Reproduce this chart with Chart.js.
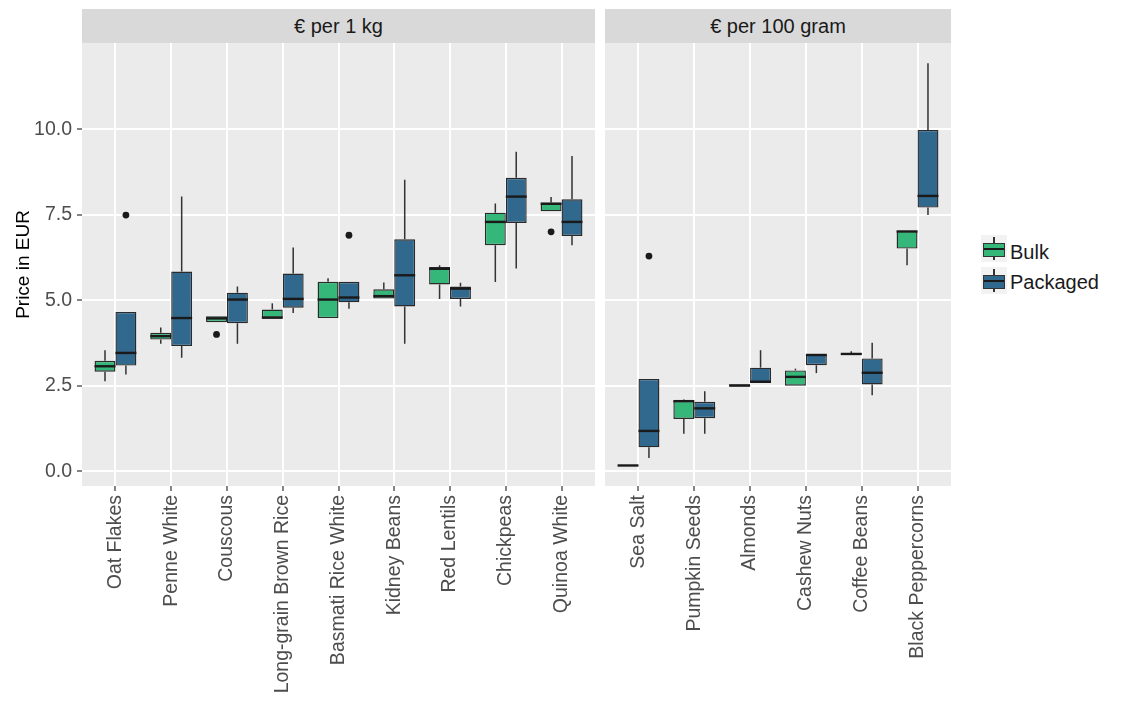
<!DOCTYPE html>
<html><head><meta charset="utf-8">
<script src="https://cdn.jsdelivr.net/npm/chart.js@4/dist/chart.umd.min.js"></script>
<style>
body{margin:0;background:#fff;width:1121px;height:720px;position:relative;overflow:hidden;font-family:"Liberation Sans",Arial,sans-serif;}
.strip{position:absolute;top:9px;height:34px;background:#D9D9D9;color:#1A1A1A;font-size:20px;line-height:35px;text-align:center;}
canvas{position:absolute;}
.key{position:absolute;left:981px;width:26px;height:27px;background:#F2F2F2;}
.key .wh{position:absolute;left:12px;width:1.5px;top:2px;height:23px;background:#333;}
.key .bx{position:absolute;left:2px;top:8px;width:20px;height:12px;border:1px solid #333;}
.key .md{position:absolute;left:3px;top:13px;width:20px;height:2px;background:#1A1A1A;}
.lab{position:absolute;left:1010px;font-size:20px;color:#1A1A1A;line-height:24px;}
</style></head>
<body>
<div class="strip" style="left:82px;width:513px;">€ per 1 kg</div>
<div class="strip" style="left:605px;width:346px;">€ per 100 gram</div>
<canvas id="c1" width="595" height="677" style="left:0;top:43px;"></canvas>
<canvas id="c2" width="346" height="677" style="left:605px;top:43px;"></canvas>
<div class="key" style="top:235px;"><div class="wh"></div><div class="bx" style="background:#35B779"></div><div class="md"></div></div>
<div class="lab" style="top:240px;">Bulk</div>
<div class="key" style="top:267px;"><div class="wh"></div><div class="bx" style="background:#31688E"></div><div class="md"></div></div>
<div class="lab" style="top:270px;">Packaged</div>
<script>
// ---- data: [lower whisker, Q1, median, Q3, upper whisker] ----
const kgCategories = ["Oat Flakes","Penne White","Couscous","Long-grain Brown Rice","Basmati Rice White","Kidney Beans","Red Lentils","Chickpeas","Quinoa White"];
const kgBulk = [
  [2.63,2.91,3.07,3.23,3.54],
  [3.73,3.85,3.95,4.05,4.20],
  [4.36,4.36,4.47,4.53,4.53],
  [4.49,4.49,4.49,4.73,4.91],
  [4.48,4.48,5.02,5.54,5.64],
  [5.05,5.05,5.12,5.32,5.52],
  [5.04,5.46,5.92,5.97,6.02],
  [5.53,6.61,7.29,7.56,7.83],
  [7.60,7.60,7.82,7.86,8.02]
];
const kgPackaged = [
  [2.83,3.09,3.46,4.66,4.66],
  [3.32,3.66,4.48,5.84,8.03],
  [3.73,4.33,5.02,5.22,5.40],
  [4.63,4.78,5.04,5.78,6.54],
  [4.75,4.94,5.08,5.54,5.54],
  [3.73,4.82,5.73,6.78,8.52],
  [4.82,5.04,5.34,5.40,5.51],
  [5.93,7.26,8.03,8.58,9.34],
  [6.61,6.88,7.29,7.95,9.22]
];
const kgBulkOutliers = [[2,4.00],[8,7.00]];
const kgPackagedOutliers = [[0,7.49],[4,6.90]];

const gCategories = ["Sea Salt","Pumpkin Seeds","Almonds","Cashew Nuts","Coffee Beans","Black Peppercorns"];
const gBulk = [
  [0.16,0.16,0.17,0.18,0.18],
  [1.10,1.53,2.05,2.06,2.10],
  [2.47,2.47,2.51,2.54,2.54],
  [2.50,2.50,2.76,2.95,3.00],
  [3.40,3.40,3.43,3.46,3.51],
  [6.02,6.51,7.01,7.03,7.03]
];
const gPackaged = [
  [0.39,0.70,1.18,2.70,2.70],
  [1.10,1.55,1.84,2.03,2.34],
  [2.58,2.58,2.62,3.03,3.54],
  [2.87,3.10,3.40,3.41,3.41],
  [2.22,2.54,2.88,3.30,3.76],
  [7.49,7.71,8.05,9.98,11.93]
];
const gBulkOutliers = [];
const gPackagedOutliers = [[0,6.29]];

const yTicks = [0, 2.5, 5, 7.5, 10];
const seriesNames = ["Bulk","Packaged"];
const seriesColors = ["#35B779","#31688E"];

const Y_MIN = -0.43, Y_MAX = 12.52;
const TICK_FONT = {family:"'Liberation Sans', Arial, sans-serif", size:19.5};

const boxPlugin = {
  id:'boxplot',
  beforeDraw(chart){
    const {ctx, chartArea:a} = chart;
    ctx.save(); ctx.fillStyle = '#EBEBEB';
    ctx.fillRect(a.left, a.top, a.right-a.left, a.bottom-a.top);
    ctx.restore();
  },
  beforeDatasetsDraw(chart){
    const ys = chart.scales.y, ctx = chart.ctx;
    ctx.save();
    ctx.strokeStyle = '#333'; ctx.lineWidth = 1.5;
    chart.data.datasets.forEach((ds, di) => {
      const meta = chart.getDatasetMeta(di);
      ds.stats.forEach((s, i) => {
        const el = meta.data[i]; if (!el) return;
        const x = el.x;
        ctx.beginPath();
        ctx.moveTo(x, ys.getPixelForValue(s[3])); ctx.lineTo(x, ys.getPixelForValue(s[4]));
        ctx.moveTo(x, ys.getPixelForValue(s[1])); ctx.lineTo(x, ys.getPixelForValue(s[0]));
        ctx.stroke();
      });
    });
    ctx.restore();
  },
  afterDatasetsDraw(chart){
    const ys = chart.scales.y, ctx = chart.ctx;
    ctx.save();
    chart.data.datasets.forEach((ds, di) => {
      const meta = chart.getDatasetMeta(di);
      ds.stats.forEach((s, i) => {
        const el = meta.data[i]; if (!el) return;
        const y = ys.getPixelForValue(s[2]);
        ctx.strokeStyle = '#1A1A1A'; ctx.lineWidth = 2.4;
        ctx.beginPath(); ctx.moveTo(el.x - el.width/2, y); ctx.lineTo(el.x + el.width/2, y); ctx.stroke();
      });
      ctx.fillStyle = '#1A1A1A';
      ds.outliers.forEach(([i, v]) => {
        const el = meta.data[i];
        ctx.beginPath(); ctx.arc(el.x, ys.getPixelForValue(v), 3.4, 0, Math.PI*2); ctx.fill();
      });
    });
    ctx.restore();
  }
};

function makeChart(id, cats, bulk, pack, bulkOut, packOut, showY){
  const mk = (stats, k, outl) => ({
    label: seriesNames[k],
    data: stats.map((s, i) => ({x:i, y:[s[1], s[3]]})),
    stats: stats, outliers: outl,
    backgroundColor: seriesColors[k],
    borderColor: '#2A2A2A', borderWidth: 1.4, borderSkipped: false,
    categoryPercentage: 0.75, barPercentage: 1
  });
  return new Chart(document.getElementById(id), {
    type:'bar',
    data:{ datasets:[mk(bulk,0,bulkOut), mk(pack,1,packOut)] },
    plugins:[boxPlugin],
    options:{
      responsive:false, animation:false,
      layout:{padding:0},
      plugins:{legend:{display:false}, tooltip:{enabled:false}},
      scales:{
        x:{
          type:'linear', min:-0.6, max:cats.length-0.4, offset:false,
          afterBuildTicks: ax => { ax.ticks = cats.map((c,i)=>({value:i})); },
          afterFit: ax => { ax.height = 234; ax.paddingLeft = 0; ax.paddingRight = 0; },
          grid:{offset:false, color:'#FFFFFF', lineWidth:2, tickColor:'#333', tickLength:5, tickWidth:1.2},
          border:{display:false},
          ticks:{ callback: v => cats[v], maxRotation:90, minRotation:90, autoSkip:false,
                  color:'#4D4D4D', font:TICK_FONT, padding:4 }
        },
        y:{
          min:Y_MIN, max:Y_MAX,
          afterBuildTicks: ax => { ax.ticks = yTicks.map(v=>({value:v})); },
          afterFit: ax => { ax.width = showY ? 82 : 0; ax.paddingTop = 0; ax.paddingBottom = 0; },
          grid:{color:'#FFFFFF', lineWidth:2, tickColor:'#333', tickLength:5, tickWidth:1.2, drawTicks:showY},
          border:{display:false},
          ticks:{ display:showY, callback: v => v.toFixed(1), color:'#4D4D4D', font:TICK_FONT, padding:5 },
          title:{ display:showY, text:'Price in EUR', color:'#000', font:{family:"'Liberation Sans', Arial, sans-serif", size:19}, padding:{top:12,bottom:0} }
        }
      }
    }
  });
}

makeChart('c1', kgCategories, kgBulk, kgPackaged, kgBulkOutliers, kgPackagedOutliers, true);
makeChart('c2', gCategories, gBulk, gPackaged, gBulkOutliers, gPackagedOutliers, false);
</script>
</body></html>
